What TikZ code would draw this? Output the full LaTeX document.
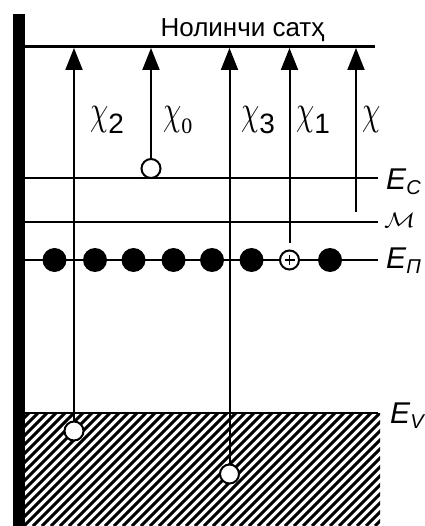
\documentclass[tikz,border=0pt]{standalone}
\usepackage{fontspec}
\usepackage{graphicx}
\setmainfont{Liberation Sans}
\newfontfamily\chifont{Liberation Serif}
\usetikzlibrary{arrows.meta}

\newcommand{\chilab}[1]{\scalebox{2.9}[4.2]{$\chi$}\raisebox{-9pt}{\fontsize{28}{28}\selectfont #1}}
\newcommand{\Elev}[1]{\fontsize{30}{30}\selectfont\textit{E}\raisebox{-5pt}{\fontsize{20}{20}\selectfont\textit{#1}}}

\begin{document}
\begin{tikzpicture}[x=1pt, y=-1pt,
      level/.style={line width=2.6pt},
      arr/.style={line width=2pt, -{Triangle[length=22pt, width=17pt]}},
      hole/.style={circle, draw, fill=white, line width=2pt, minimum size=19pt, inner sep=0pt},
      dot/.style={circle, fill=black, minimum size=24pt, inner sep=0pt},
      lab/.style={anchor=base west, inner sep=0pt}]
    \useasboundingbox (0,0) rectangle (424,526);
    % hatched valence band
    \begin{scope}
      \clip (25,413) rectangle (380,526);
      \foreach \k in {-120,-111,...,390}
        \draw[line width=3pt] (\k,526) -- ++(113,-113);
    \end{scope}
    % metal surface
    \fill (13,14) rectangle (25,526);
    % levels
    \draw[level] (25,46.5) -- (375,46.5);
    \draw[level] (25,178) -- (378,178);
    \draw[level] (25,222) -- (378,222);
    \draw[level] (25,260) -- (378,260);
    \draw[level] (25,413) -- (378,413);
    \node[anchor=base, inner sep=0pt, font=\fontsize{26}{26}\selectfont] (vac) at (242.5,37) {Нолинчи сатҳ};
    \node[lab] (Ec) at (386,190) {\Elev{C}};
    \node[lab] (M) at (384,227) {\scalebox{2.6}[2.1]{$\mathcal{M}$}};
    \node[lab] (Ep) at (386,268) {\Elev{П}};
    \node[lab] (Ev) at (390,423) {\Elev{V}};
    % surface states
    \foreach \x [count=\i] in {54.5,95,133.5,173.5,212,251.5,330}
      \node[dot] (d\i) at (\x,260) {};
    % holes
    \node[hole] (h0) at (151,168.5) {};
    \node[hole] (h1) at (289.5,260) {};
    \node[hole] (h2) at (74,431) {};
    \node[hole] (h3) at (229.5,474) {};
    \draw[line width=1.6pt] ([xshift=-5pt]h1.center) -- ([xshift=5pt]h1.center);
    \draw[line width=1.6pt] ([yshift=-5pt]h1.center) -- ([yshift=5pt]h1.center);
    % arrow ends
    \coordinate (t2) at (74,48);
    \coordinate (t0) at (151,48);
    \coordinate (t3) at (229.5,48);
    \coordinate (t1) at (289.5,48);
    \coordinate (t) at (356,48);
    \coordinate (b) at (356,212);
    \draw[arr] (h2) -- (t2);
    \draw[arr] (h0) -- (t0);
    \draw[arr] (h3) -- (t3);
    \draw[arr, shorten <=7pt] (h1) -- (t1);
    \draw[arr] (b) -- (t);
    % work functions
    \node[lab] (x2) at (90,125) {\chilab{2}};
    \node[lab] (x0) at (163,125) {\chilab{{\fontsize{22}{22}\chifont 0}}};
    \node[lab] (x3) at (241,125) {\chilab{3}};
    \node[lab] (x1) at (296,125) {\chilab{1}};
    \node[lab] (x) at (362,125) {\chilab{}};
\end{tikzpicture}
\end{document}
